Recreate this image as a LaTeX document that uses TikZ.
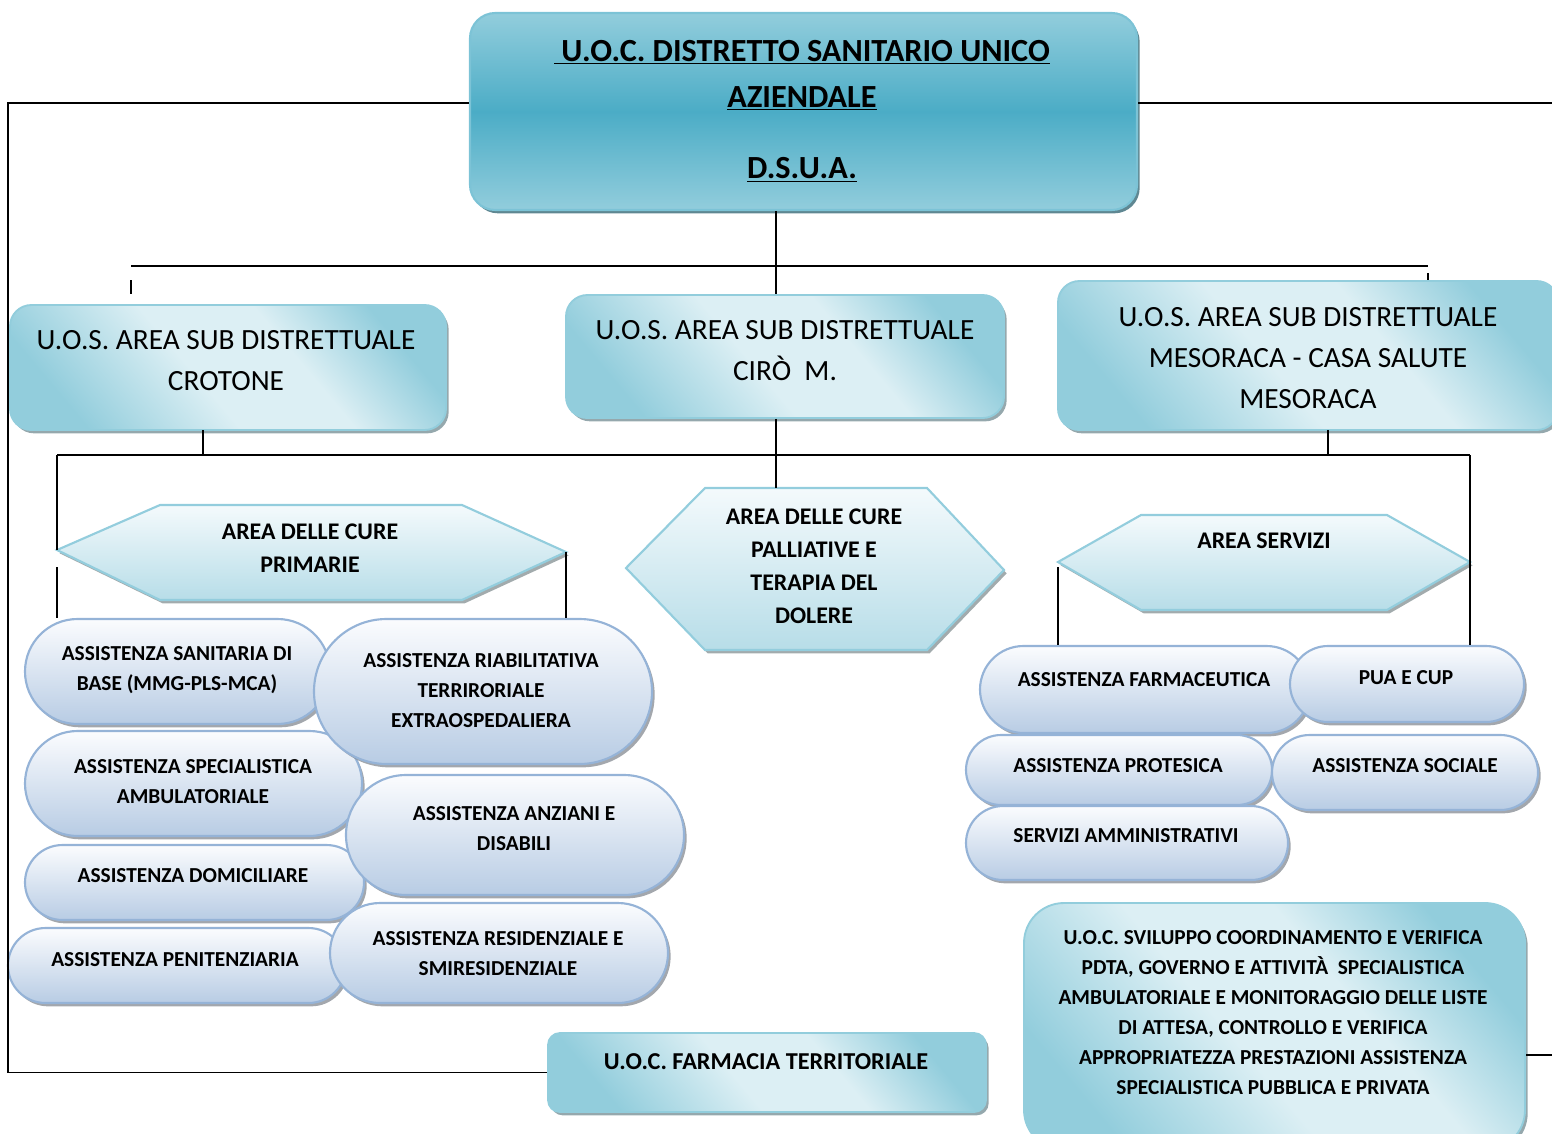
\documentclass[tikz,border=0pt]{standalone}
\usepackage{fontspec}
\setmainfont{Carlito}
\usetikzlibrary{shapes.misc,shadows}

\definecolor{cyD}{HTML}{92CDDC}
\definecolor{cyL}{HTML}{DCEFF4}
\definecolor{cyM}{HTML}{4BACC6}
\definecolor{cyEdge}{HTML}{7CC3D6}
\definecolor{pilTop}{HTML}{FBFCFE}
\definecolor{pilBot}{HTML}{B8CCE4}
\definecolor{pilEdge}{HTML}{95B3D7}
\definecolor{hexTop}{HTML}{F4FAFC}
\definecolor{hexBot}{HTML}{B7DDE8}
\definecolor{hexEdge}{HTML}{93CDDD}

\pgfdeclarehorizontalshading{uosh}{100bp}{color(0bp)=(cyD); color(25bp)=(cyD);
  color(45bp)=(cyL); color(60bp)=(cyL); color(75bp)=(cyD); color(100bp)=(cyD)}

\tikzset{
  conn/.style={line width=1.2pt},
  sz/.style 2 args={minimum width=#1*0.75pt, minimum height=#2*0.75pt, inner sep=0pt},
  shad/.style={drop shadow={shadow xshift=2pt, shadow yshift=-2.5pt, fill=#1, opacity=.75}},
  topbox/.style={rectangle, rounded corners=19pt, draw=cyEdge, line width=1.6pt,
    top color=cyD, bottom color=cyD, middle color=cyM, shad=cyM!55!black},
  uobox/.style={rectangle, rounded corners=16pt, draw=cyD, line width=1.4pt,
    shading=uosh, shading angle=40, shad=gray!75!cyM},
  pill/.style={rounded rectangle, draw=pilEdge, line width=1.6pt,
    top color=pilTop, bottom color=pilBot, shad=gray!80!pilEdge},
  hexa/.style={draw=hexEdge, line width=1.6pt, top color=hexTop, bottom color=hexBot,
    shad=gray!80!hexEdge},
  ttl/.style={font=\fontsize{24.2}{34.5}\selectfont\bfseries, align=center},
  uos/.style={font=\fontsize{22}{30.75}\selectfont, align=center},
  hxt/.style={font=\fontsize{17.9}{24.75}\selectfont\bfseries, align=center},
  ptx/.style={font=\fontsize{16}{22.5}\selectfont\bfseries, align=center},
  svt/.style={font=\fontsize{16}{22.5}\selectfont\bfseries, align=center},
  bft/.style={font=\fontsize{18.2}{24}\selectfont\bfseries, align=center}
}

\begin{document}
\begin{tikzpicture}[x=0.75pt,y=-0.75pt]
  \useasboundingbox (0,0) rectangle (1552,1133);
  \clip (0,0) rectangle (1552,1133);

  % fixed points of the connectors
  \coordinate (lft) at (8,103);
  \coordinate (rgt) at (1562,103);
  \coordinate (trunk) at (776,266);
  \coordinate (bl) at (131,266);
  \coordinate (br) at (1428,266);
  \coordinate (al) at (57,455);
  \coordinate (ar) at (1470,455);
  \coordinate (prim-w) at (57,550);
  \coordinate (prim-e) at (566,552);
  \coordinate (pall-n) at (776,488);
  \coordinate (serv-w) at (1058,562);

  % top level
  \node[topbox, sz={667}{197}] (top) at (803.5,111.5) {};
  \node[ttl] (top-t) at (802,111) {\underline{\ U.O.C. DISTRETTO SANITARIO UNICO}\\
    \underline{AZIENDALE}\\[19pt] \underline{D.S.U.A.}};

  % sub areas
  \node[uobox, sz={436}{125}] (crot) at (228,367.5) {};
  \node[uos] (crot-t) at (226,361) {U.O.S. AREA SUB DISTRETTUALE\\CROTONE};
  \node[uobox, sz={438}{123}] (ciro) at (785,356.5) {};
  \node[uos] (ciro-t) at (785,351) {U.O.S. AREA SUB DISTRETTUALE\\CIRÒ\ \ M.};
  \node[uobox, sz={500}{149}] (meso) at (1308,355.5) {};
  \node[uos] (meso-t) at (1308,358) {U.O.S. AREA SUB DISTRETTUALE\\MESORACA - CASA SALUTE\\MESORACA};

  % areas
  \draw[hexa] (prim-w) -- (160,505) -- (462,505) -- (prim-e) -- (462,600) -- (160,600) -- cycle;
  \node[hxt] (prim) at (310,548) {AREA DELLE CURE\\PRIMARIE};
  \draw[hexa] (626,568) -- (705,488) -- (927,488) -- (1004,570) -- (927,650) -- (705,650) -- cycle;
  \node[hxt] (pall) at (814,566) {AREA DELLE CURE\\PALLIATIVE E\\TERAPIA DEL\\DOLERE};
  \draw[hexa] (serv-w) -- (1141,515) -- (1387,515) -- (1470,562) -- (1387,610) -- (1141,610) -- cycle;
  \node[hxt] (serv) at (1264,541) {AREA SERVIZI};

  % cure primarie
  \node[pill, sz={305}{105}] (sanit) at (177.5,671.5) {};
  \node[ptx] (sanit-t) at (177,670) {ASSISTENZA SANITARIA DI\\BASE (MMG-PLS-MCA)};
  \node[pill, sz={337}{105}] (spec) at (193.5,783.5) {};
  \node[ptx] (spec-t) at (193,782) {ASSISTENZA SPECIALISTICA\\AMBULATORIALE};
  \node[pill, sz={339}{75}] (dom) at (194.5,882.5) {};
  \node[ptx] (dom-t) at (193,876) {ASSISTENZA DOMICILIARE};
  \node[pill, sz={338}{75}] (pen) at (177,965.5) {};
  \node[ptx] (pen-t) at (175,960) {ASSISTENZA PENITENZIARIA};
  \node[pill, sz={338}{145}] (riab) at (483,691.5) {};
  \node[ptx] (riab-t) at (481,690.5) {ASSISTENZA RIABILITATIVA\\TERRIRORIALE\\EXTRAOSPEDALIERA};
  \node[pill, sz={338}{120}] (anz) at (515,835) {};
  \node[ptx] (anz-t) at (514,828.5) {ASSISTENZA ANZIANI E\\DISABILI};
  \node[pill, sz={338}{100}] (res) at (499,953) {};
  \node[ptx] (res-t) at (498,953.5) {ASSISTENZA RESIDENZIALE E\\SMIRESIDENZIALE};

  % servizi
  \node[pill, sz={330}{87}] (farm) at (1145,689.5) {};
  \node[ptx] (farm-t) at (1144,680) {ASSISTENZA FARMACEUTICA};
  \node[pill, sz={306}{70}] (prot) at (1119,770) {};
  \node[ptx] (prot-t) at (1118,766) {ASSISTENZA PROTESICA};
  \node[pill, sz={322}{74}] (amm) at (1127,843) {};
  \node[ptx] (amm-t) at (1126,836) {SERVIZI AMMINISTRATIVI};
  \node[pill, sz={234}{76}] (pua) at (1407,684) {};
  \node[ptx] (pua-t) at (1406,678) {PUA E CUP};
  \node[pill, sz={266}{75}] (soc) at (1405,772.5) {};
  \node[ptx] (soc-t) at (1405,766) {ASSISTENZA SOCIALE};

  % other units
  \node[uobox, rounded corners=9pt, sz={438}{79}] (farmt) at (767,1072.5) {};
  \node[bft] (farmt-t) at (766,1062) {U.O.C. FARMACIA TERRITORIALE};
  \node[uobox, rounded corners=30pt, sz={501}{247}] (svil) at (1274.5,1026.5) {};
  \node[svt] (svil-t) at (1273,1012.5) {U.O.C. SVILUPPO COORDINAMENTO E VERIFICA\\
    PDTA, GOVERNO E ATTIVITÀ\ \ SPECIALISTICA\\AMBULATORIALE E MONITORAGGIO DELLE LISTE\\
    DI ATTESA, CONTROLLO E VERIFICA\\APPROPRIATEZZA PRESTAZIONI ASSISTENZA\\
    SPECIALISTICA PUBBLICA E PRIVATA};

  % connectors
  \draw[conn] (top.west |- lft) -- (lft) |- (farmt.west);
  \draw[conn] (top.east |- rgt) -- (rgt) |- (svil.east |- 0,1055);
  \draw[conn] (trunk |- top.south) -- (trunk |- ciro.north);
  \draw[conn] (bl) -- (br);
  \draw[conn] (131,280) -- (131,294);
  \draw[conn] (1428,273) -- (br |- meso.north);
  \draw[conn] (al) -- (ar);
  \draw[conn] (203,430) -- (203,455);
  \draw[conn] (trunk |- ciro.south) -- (pall-n);
  \draw[conn] (1328,430) -- (1328,455);
  \draw[conn] (al) -- (prim-w);
  \draw[conn] (57,567) -- (sanit.north -| al);
  \draw[conn] (prim-e) -- (riab.north -| prim-e);
  \draw[conn] (1058,567) -- (farm.north -| serv-w);
  \draw[conn] (ar) -- (pua.north -| ar);
\end{tikzpicture}
\end{document}
